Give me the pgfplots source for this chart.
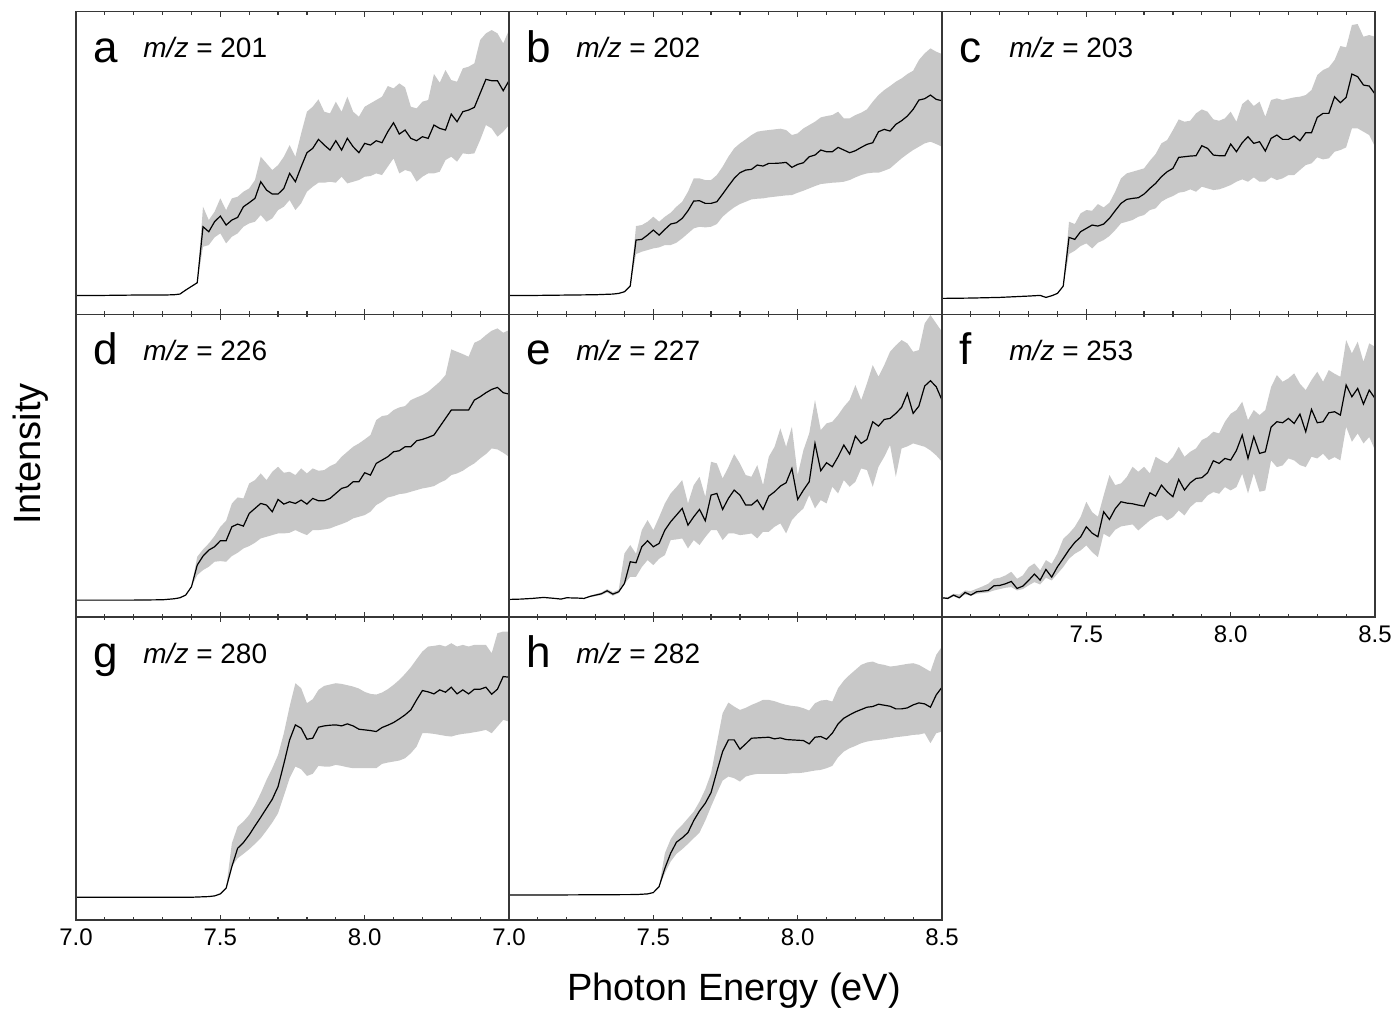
\documentclass[border=0pt]{standalone}
\usepackage{fontspec}
\setmainfont{Liberation Sans}
\usepackage{pgfplots}
\usepackage{pgfplotstable}
\pgfplotsset{compat=1.18}
\usepgfplotslibrary{fillbetween}
\definecolor{bandcol}{RGB}{200,200,200}
\definecolor{framecol}{RGB}{55,55,55}

\pgfplotstableread{
E m lo hi
7.00 57 57 57
7.10 57 57 57
7.20 58 58 58
7.30 58 58 58
7.34 59 59 59
7.36 61 61 61
7.38 73 73 73
7.42 95 95 95
7.44 263 203 323
7.46 248 208 283
7.48 278 231 308
7.50 295 243 348
7.52 268 213 313
7.54 283 233 348
7.56 291 243 353
7.58 323 263 368
7.60 335 273 378
7.62 348 278 403
7.64 398 298 473
7.66 373 278 453
7.68 361 288 433
7.70 361 313 448
7.72 378 323 473
7.74 423 343 508
7.76 398 313 473
7.78 443 333 543
7.80 485 368 608
7.82 498 383 623
7.84 525 395 645
7.86 508 395 608
7.88 493 398 603
7.90 521 395 638
7.92 493 413 608
7.94 528 393 653
7.96 503 398 608
7.98 485 403 593
8.00 513 413 623
8.02 508 415 633
8.04 521 423 643
8.06 515 418 653
8.08 548 443 685
8.10 575 468 678
8.12 541 423 693
8.14 553 433 681
8.16 528 428 623
8.18 521 398 618
8.20 533 413 638
8.22 528 423 643
8.24 568 423 721
8.26 558 428 695
8.28 553 463 733
8.30 601 473 703
8.32 578 458 698
8.34 608 483 738
8.36 613 481 743
8.38 621 483 753
8.40 663 523 823
8.42 705 568 843
8.44 701 558 853
8.46 701 533 843
8.48 671 548 813
8.50 701 568 853
}\tabA

\pgfplotstableread{
E m lo hi
7.00 57 57 57
7.10 57 57 57
7.20 58 58 58
7.30 59 59 59
7.36 61 61 61
7.38 63 63 63
7.40 68 68 68
7.42 85 85 85
7.44 223 181 265
7.46 225 188 268
7.48 238 193 278
7.50 253 198 293
7.52 238 201 278
7.54 255 208 293
7.56 271 208 305
7.58 275 215 323
7.60 288 228 338
7.62 311 243 368
7.64 340 258 408
7.66 341 263 408
7.68 333 261 403
7.70 333 263 403
7.72 338 271 418
7.74 361 293 443
7.76 385 308 473
7.78 408 321 498
7.80 425 331 513
7.82 433 338 525
7.84 435 345 538
7.86 448 347 548
7.88 445 348 551
7.90 453 351 553
7.92 453 353 555
7.94 454 355 557
7.96 456 357 553
7.98 441 358 538
8.00 450 365 543
8.02 455 371 558
8.04 473 378 568
8.06 478 385 578
8.08 493 391 591
8.10 488 393 595
8.12 488 395 598
8.14 501 396 608
8.16 493 398 588
8.18 485 403 588
8.20 491 411 598
8.22 501 418 605
8.24 510 423 615
8.26 515 425 638
8.28 548 425 658
8.30 555 431 673
8.32 550 438 685
8.34 570 453 698
8.36 581 468 708
8.38 595 481 721
8.40 615 493 731
8.42 643 503 763
8.44 647 513 783
8.46 658 518 798
8.48 645 511 788
8.50 641 503 781
}\tabB

\pgfplotstableread{
E m lo hi
7.00 48 48 48
7.10 49 49 49
7.20 51 51 51
7.30 55 55 55
7.34 57 57 57
7.36 51 51 51
7.38 56 56 56
7.40 63 63 63
7.42 85 85 85
7.44 231 181 278
7.46 225 191 271
7.48 248 205 303
7.50 258 213 313
7.52 268 198 311
7.54 265 215 331
7.56 271 223 321
7.58 288 235 335
7.60 311 253 368
7.62 333 273 408
7.64 345 278 423
7.66 348 283 428
7.68 350 293 433
7.70 361 298 438
7.72 378 313 461
7.74 393 318 481
7.76 413 338 513
7.78 428 348 523
7.80 438 355 553
7.82 471 365 585
7.84 473 368 578
7.86 475 375 581
7.88 476 368 603
7.90 506 383 615
7.92 498 378 608
7.94 478 373 585
7.96 476 375 581
7.98 476 381 588
8.00 511 388 608
8.02 488 398 578
8.04 515 405 631
8.06 533 398 645
8.08 513 411 625
8.10 518 398 638
8.12 490 398 593
8.14 528 411 643
8.16 538 403 648
8.18 525 408 643
8.20 525 418 647
8.22 535 418 651
8.24 521 433 653
8.26 545 448 658
8.28 545 453 673
8.30 591 471 718
8.32 603 465 733
8.34 603 468 741
8.36 653 488 763
8.38 635 493 805
8.40 651 501 801
8.42 721 558 868
8.44 713 558 871
8.46 688 548 833
8.48 685 538 838
8.50 661 503 833
}\tabC

\pgfplotstableread{
E m lo hi
7.00 51 51 51
7.10 51 51 51
7.20 51 51 51
7.30 52 52 52
7.34 55 55 55
7.36 58 58 58
7.38 66 66 66
7.40 91 91 91
7.42 156 126 181
7.44 183 141 203
7.46 201 151 221
7.48 211 166 243
7.50 229 168 271
7.52 229 166 289
7.54 271 183 341
7.56 279 193 359
7.58 273 206 356
7.60 311 213 401
7.62 326 223 411
7.64 341 236 431
7.66 336 241 411
7.68 316 246 436
7.70 353 251 451
7.72 339 251 433
7.74 346 253 436
7.76 341 261 426
7.78 351 253 446
7.80 339 246 431
7.82 356 261 446
7.84 349 261 439
7.86 349 263 441
7.88 356 266 453
7.90 371 273 461
7.92 386 279 481
7.94 391 286 496
7.96 406 296 511
7.98 406 301 521
8.00 433 306 533
8.02 426 316 546
8.04 461 336 591
8.06 471 346 603
8.08 481 359 606
8.10 496 363 621
8.12 499 369 629
8.14 511 371 633
8.16 511 376 651
8.18 529 381 659
8.20 533 386 666
8.22 539 389 676
8.24 546 393 691
8.26 571 403 706
8.28 596 411 726
8.30 621 426 803
8.32 621 431 796
8.34 621 439 789
8.36 621 451 781
8.38 651 461 823
8.40 661 476 831
8.42 673 489 846
8.44 683 506 859
8.46 689 503 866
8.48 673 493 853
8.50 669 481 861
}\tabD

\pgfplotstableread{
E m lo hi
7.00 53 53 53
7.04 54 54 54
7.08 56 56 56
7.12 59 59 59
7.16 56 56 56
7.18 54 54 54
7.20 58 58 58
7.24 57 57 57
7.26 56 56 56
7.28 62 60 64
7.30 66 63 69
7.32 70 66 74
7.34 79 74 84
7.36 69 64 75
7.38 76 72 82
7.40 101 100 191
7.42 166 121 216
7.44 163 121 190
7.46 211 150 261
7.48 229 171 291
7.50 211 156 261
7.52 221 175 300
7.54 261 186 341
7.56 286 231 371
7.58 306 233 390
7.60 326 236 411
7.62 276 206 341
7.64 301 231 396
7.66 323 216 421
7.68 289 240 361
7.70 366 261 466
7.72 371 261 461
7.74 323 231 416
7.76 356 251 450
7.78 381 251 489
7.80 366 246 461
7.82 336 248 426
7.84 336 251 421
7.86 351 236 456
7.88 323 256 396
7.90 363 256 481
7.92 376 271 511
7.94 393 281 566
7.96 403 251 511
7.98 446 291 571
8.00 353 310 426
8.02 381 326 501
8.04 406 366 551
8.06 521 326 651
8.08 439 351 561
8.10 463 341 581
8.12 451 391 586
8.14 481 371 606
8.16 516 411 631
8.18 489 391 651
8.20 543 406 696
8.22 521 446 651
8.24 533 441 701
8.26 586 391 756
8.28 573 451 721
8.30 593 481 756
8.32 596 516 796
8.34 611 421 815
8.36 629 506 831
8.38 671 512 821
8.40 611 521 796
8.42 633 516 801
8.44 693 511 881
8.46 709 500 906
8.48 691 485 881
8.50 651 466 856
}\tabE

\pgfplotstableread{
E m lo hi
7.00 58 56 60
7.02 56 54 60
7.04 66 62 70
7.06 58 56 68
7.08 74 68 80
7.10 66 64 78
7.12 76 70 85
7.14 78 72 92
7.16 80 74 100
7.18 94 80 115
7.20 95 84 118
7.22 100 88 125
7.24 107 90 136
7.26 86 80 115
7.28 93 84 125
7.30 110 95 150
7.32 129 105 161
7.34 111 98 140
7.36 143 118 171
7.38 120 110 160
7.40 151 130 191
7.42 176 150 235
7.44 202 175 251
7.46 224 190 271
7.48 240 200 300
7.50 271 215 346
7.52 252 195 315
7.54 241 180 301
7.56 316 250 365
7.58 293 240 426
7.60 325 262 396
7.62 346 272 401
7.64 342 275 420
7.66 340 278 451
7.68 336 260 436
7.70 333 275 451
7.72 373 290 431
7.74 363 300 481
7.76 396 305 470
7.78 376 290 461
7.80 361 300 480
7.82 413 320 511
7.84 381 305 481
7.86 403 330 496
7.88 416 345 506
7.90 418 345 531
7.92 433 365 540
7.94 469 375 556
7.96 461 370 551
7.98 476 390 586
8.00 471 380 610
8.02 500 390 621
8.04 546 430 646
8.06 476 371 591
8.08 541 431 621
8.10 491 376 606
8.12 496 380 621
8.14 570 470 690
8.16 586 450 726
8.18 583 455 706
8.20 596 476 716
8.22 581 470 731
8.24 609 456 700
8.26 556 450 681
8.28 623 481 711
8.30 583 476 736
8.32 586 490 706
8.34 613 471 741
8.36 616 480 730
8.38 606 470 721
8.40 696 571 831
8.42 661 526 791
8.44 686 551 826
8.46 639 521 766
8.48 681 540 821
8.50 656 501 811
}\tabF

\pgfplotstableread{
E m lo hi
7.00 68 68 68
7.20 68 68 68
7.40 68 68 68
7.46 70 70 70
7.48 72 72 72
7.50 78 78 78
7.52 95 95 95
7.54 160 160 230
7.56 215 185 280
7.58 232 198 295
7.60 255 212 315
7.62 282 228 345
7.64 308 245 380
7.66 335 268 420
7.68 362 292 455
7.70 400 320 495
7.72 468 372 560
7.74 540 425 640
7.76 585 460 710
7.78 575 452 695
7.80 542 432 650
7.82 545 438 662
7.84 578 462 690
7.86 582 460 702
7.88 584 460 706
7.90 585 465 710
7.92 582 462 708
7.94 588 458 704
7.96 582 455 700
7.98 572 455 694
8.00 570 455 684
8.02 568 455 678
8.04 565 455 676
8.06 577 468 682
8.08 584 472 692
8.10 592 475 705
8.12 603 478 720
8.14 615 485 738
8.16 630 500 758
8.18 660 520 782
8.20 688 560 805
8.22 684 560 820
8.24 678 558 822
8.26 690 555 825
8.28 683 552 820
8.30 698 550 830
8.32 678 555 820
8.34 690 558 825
8.36 678 560 820
8.38 692 563 825
8.40 692 566 825
8.42 698 570 825
8.44 677 560 800
8.46 692 580 860
8.48 730 600 865
8.50 728 595 865
}\tabG

\pgfplotstableread{
E m lo hi
7.00 75 75 75
7.20 75 75 75
7.44 76 76 76
7.46 77 77 77
7.48 78 78 78
7.50 82 82 82
7.52 100 100 100
7.54 155 140 200
7.56 200 175 242
7.58 233 198 268
7.60 246 212 285
7.62 262 228 305
7.64 298 245 325
7.66 327 262 355
7.68 350 298 392
7.70 382 340 440
7.72 445 380 530
7.74 505 418 620
7.76 540 430 652
7.78 540 425 640
7.80 512 415 630
7.82 528 430 636
7.84 545 435 645
7.86 546 438 652
7.88 547 438 660
7.90 548 438 660
7.92 543 438 656
7.94 546 438 650
7.96 541 438 645
7.98 540 440 642
8.00 539 440 640
8.02 538 442 635
8.04 528 445 628
8.06 548 448 650
8.08 550 450 658
8.10 542 455 660
8.12 560 462 655
8.14 588 488 695
8.16 605 505 718
8.18 615 515 735
8.20 624 522 750
8.22 631 530 765
8.24 638 535 772
8.26 640 538 775
8.28 647 540 768
8.30 644 542 765
8.32 641 545 760
8.34 633 548 762
8.36 633 550 765
8.38 636 552 768
8.40 645 555 770
8.42 651 556 765
8.44 648 560 755
8.46 638 530 745
8.48 675 560 795
8.50 698 565 820
}\tabH

\pgfplotsset{
  panel/.style={
    width=216.5pt, height=151.35pt, scale only axis,
    anchor=north west,
    xmin=7, xmax=8.5, ymin=0, ymax=908,
    xtick={7,7.5,8,8.5}, minor x tick num=4,
    ytick=\empty, xtick pos=both,
    tick align=inside, major tick length=2.6pt, minor tick length=1.5pt,
    axis line style={draw=framecol, line width=0.7pt},
    tick style={draw=framecol, line width=0.6pt},
    xticklabels={},
    xticklabel style={font=\fontsize{12}{14}\selectfont, inner sep=0pt, yshift=-4.2pt},
    axis on top,
  },
}

\newcommand{\mypanel}[3]{%
  \addplot[draw=none, name path=U] table[x=E,y=hi]{#1};
  \addplot[draw=none, name path=L] table[x=E,y=lo]{#1};
  \addplot[fill=bandcol, draw=none] fill between[of=U and L];
  \addplot[black, line width=0.6pt] table[x=E,y=m]{#1};
  \node[anchor=base west, inner sep=0, font=\fontsize{22}{26}\selectfont] at ([xshift=8.75pt,yshift=-25.25pt]axis description cs:0,1) {#2};
  \node[anchor=base west, inner sep=0, font=\fontsize{14}{17}\selectfont] at ([xshift=33.5pt,yshift=-23pt]axis description cs:0,1) {\textit{m/z} = #3};
}

\begin{document}
\begin{tikzpicture}
\begin{axis}[panel, at={(38pt,-5.85pt)}]
\mypanel{\tabA}{a}{201}
\end{axis}
\begin{axis}[panel, at={(254.5pt,-5.85pt)}]
\mypanel{\tabB}{b}{202}
\end{axis}
\begin{axis}[panel, at={(471pt,-5.85pt)}]
\mypanel{\tabC}{c}{203}
\end{axis}

\begin{axis}[panel, at={(38pt,-157.2pt)}]
\mypanel{\tabD}{d}{226}
\end{axis}
\begin{axis}[panel, at={(254.5pt,-157.2pt)}]
\mypanel{\tabE}{e}{227}
\end{axis}
\begin{axis}[panel, at={(471pt,-157.2pt)}, xticklabels={,7.5,8.0,8.5}]
\mypanel{\tabF}{f}{253}
\end{axis}

\begin{axis}[panel, at={(38pt,-308.6pt)}, xticklabels={7.0,7.5,8.0,}]
\mypanel{\tabG}{g}{280}
\end{axis}
\begin{axis}[panel, at={(254.5pt,-308.6pt)}, xticklabels={7.0,7.5,8.0,8.5}]
\mypanel{\tabH}{h}{282}
\end{axis}

\node[rotate=90, anchor=base, font=\fontsize{19}{23}\selectfont] at (20.3pt,-227pt) {Intensity};
\node[anchor=base, font=\fontsize{19}{23}\selectfont] at (367pt,-500pt) {Photon Energy (eV)};
\path[use as bounding box] (0pt,0pt) rectangle (699.5pt,-505pt);
\end{tikzpicture}
\end{document}
